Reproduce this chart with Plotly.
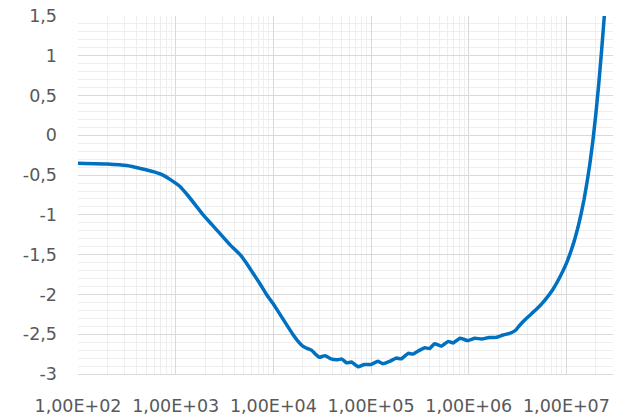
import math
import plotly.graph_objects as go

# Frequency (x, log scale) and value (y)
freq = [100, 200, 316, 447, 603, 741, 891, 1100, 1320, 1580, 1910, 2340, 2820,
        3630, 4570, 5250, 6170, 7240, 8510, 10000, 11700, 13500, 15800, 18200,
        20000, 22400, 24500, 27500, 29500, 33900, 38900, 45700, 50100, 56200,
        63100, 74100, 85100, 100000, 117000, 132000, 155000, 182000, 204000,
        240000, 269000, 316000, 355000, 398000, 447000, 525000, 617000, 692000,
        813000, 977000, 1150000, 1350000, 1620000, 1910000, 2240000, 2630000,
        3020000, 3310000, 3980000, 4900000, 6030000, 7240000, 8510000, 10000000,
        10960000, 12020000, 13180000, 14130000, 15140000, 16220000, 17380000,
        18620000, 19950000, 21380000, 22910000, 24550000, 25700000]
value = [-0.35, -0.36, -0.38, -0.42, -0.46, -0.50, -0.56, -0.64, -0.75, -0.87,
         -1.00, -1.12, -1.23, -1.38, -1.50, -1.60, -1.73, -1.86, -2.00, -2.12,
         -2.25, -2.37, -2.50, -2.60, -2.65, -2.68, -2.70, -2.76, -2.79, -2.77,
         -2.81, -2.82, -2.81, -2.86, -2.85, -2.91, -2.88, -2.88, -2.84, -2.87,
         -2.84, -2.80, -2.81, -2.74, -2.75, -2.70, -2.67, -2.68, -2.62, -2.65,
         -2.59, -2.61, -2.55, -2.58, -2.55, -2.56, -2.54, -2.54, -2.51, -2.49,
         -2.45, -2.39, -2.29, -2.19, -2.07, -1.94, -1.79, -1.61,
         -1.48, -1.33, -1.15, -0.99, -0.81, -0.60, -0.36,
         -0.08, 0.25, 0.63, 1.06, 1.53, 1.85]

x_tickvals = [1e2, 1e3, 1e4, 1e5, 1e6, 1e7]
x_ticktext = ["1,00E+02", "1,00E+03", "1,00E+04", "1,00E+05", "1,00E+06", "1,00E+07"]
y_tickvals = [-3, -2.5, -2, -1.5, -1, -0.5, 0, 0.5, 1, 1.5]
y_ticktext = ["-3", "-2,5", "-2", "-1,5", "-1", "-0,5", "0", "0,5", "1", "1,5"]

X_MIN, X_MAX = 1e2, 3e7
Y_MIN, Y_MAX = -3, 1.5

fig = go.Figure()
fig.add_trace(go.Scatter(
    x=freq, y=value, mode="lines",
    line=dict(color="#0070C0", width=3.5, shape="spline", smoothing=0.3),
    hoverinfo="skip", showlegend=False,
))

font = dict(family="DejaVu Sans", size=17.5, color="#595959")
fig.update_layout(
    width=621, height=415,
    margin=dict(l=78, r=8, t=16, b=41, autoexpand=False),
    paper_bgcolor="white", plot_bgcolor="white",
    xaxis=dict(
        type="log", range=[math.log10(X_MIN), math.log10(X_MAX)],
        tickvals=x_tickvals, ticktext=x_ticktext, automargin=False,
        showgrid=True, gridcolor="#D9D9D9", gridwidth=1,
        minor=dict(showgrid=True, gridcolor="#EEEEEE", gridwidth=1, dtick="D1", ticks=""),
        showline=True, linecolor="#D9D9D9", linewidth=1,
        zeroline=False, ticks="", tickfont=font, ticklabelstandoff=16,
    ),
    yaxis=dict(
        range=[Y_MIN, Y_MAX],
        tickvals=y_tickvals, ticktext=y_ticktext, automargin=False,
        showgrid=True, gridcolor="#D9D9D9", gridwidth=1,
        minor=dict(showgrid=True, gridcolor="#EEEEEE", gridwidth=1, dtick=0.1, ticks=""),
        zeroline=False, showline=False, ticks="", tickfont=font, ticklabelstandoff=20,
    ),
)
fig.write_html("out.html",
               config={"displayModeBar": False, "staticPlot": True},
               post_script="document.body.style.margin='0';document.body.style.overflow='hidden';")
